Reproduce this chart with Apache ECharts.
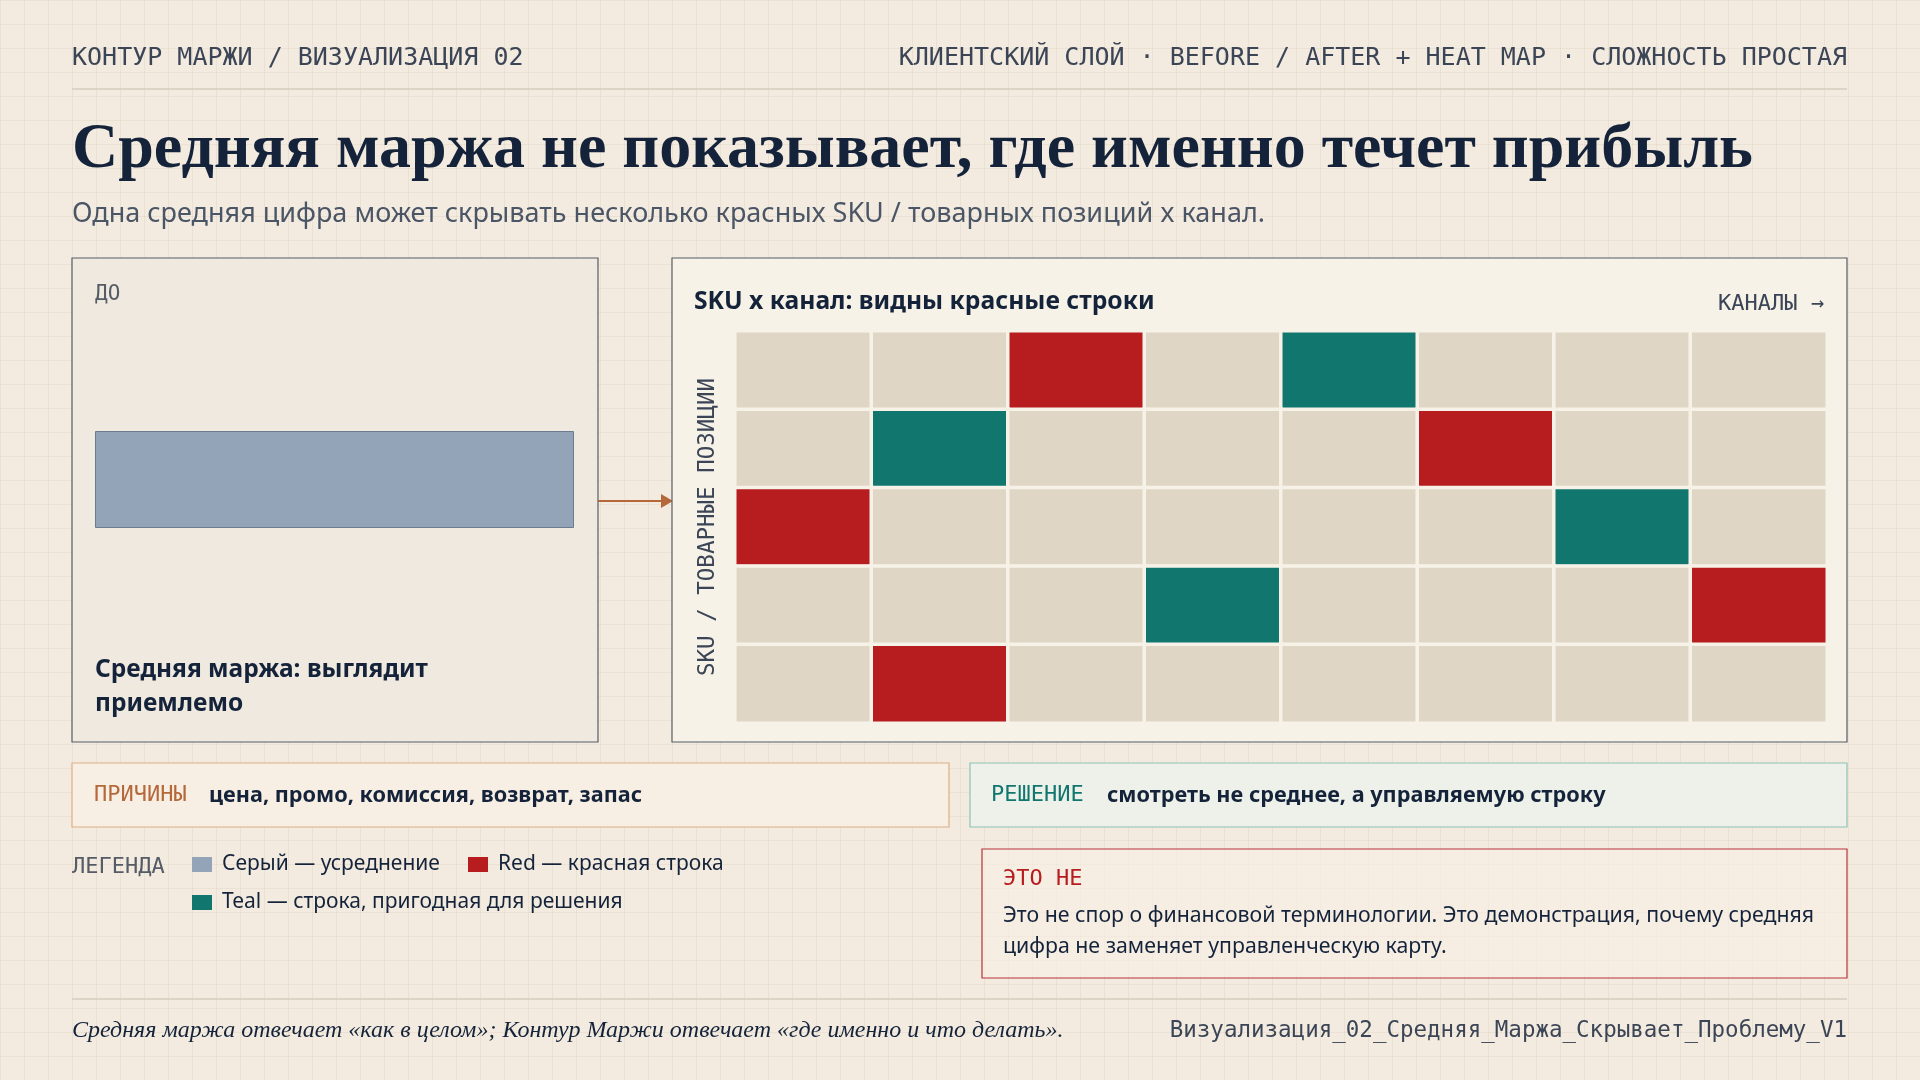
<!DOCTYPE html>
<html><head><meta charset="utf-8">
<script src="https://cdn.jsdelivr.net/npm/echarts@6/dist/echarts.min.js"></script>
<style>
html,body{margin:0;padding:0;width:1920px;height:1080px;overflow:hidden;
background-color:#f3ebdf;
background-image:linear-gradient(rgba(160,140,110,0.10) 1px,transparent 1px),linear-gradient(90deg,rgba(160,140,110,0.10) 1px,transparent 1px);
background-size:24px 24px;}
#c{width:1920px;height:1080px;}
</style></head><body><div id="c"></div>
<script>
const channels = ['К1','К2','К3','К4','К5','К6','К7','К8'];
const skus = ['SKU 1','SKU 2','SKU 3','SKU 4','SKU 5'];
// 0 = нейтрально, 1 = красная, 2 = teal
const cellRows = [
  [0,0,1,0,2,0,0,0],
  [0,2,0,0,0,1,0,0],
  [1,0,0,0,0,0,2,0],
  [0,0,0,2,0,0,0,1],
  [0,1,0,0,0,0,0,0]
];
const averageMargin = [1];

const heatData = [];
cellRows.forEach((row, r) => row.forEach((v, c) => heatData.push([c, r, v])));

const MONO = '"DejaVu Sans Mono", monospace';
const SANS = '"Noto Sans", sans-serif';
const SERIF = '"Liberation Serif", serif';
const NAVY = '#14233a';

function t(x, y, text, font, fill, extra) {
  return {type:'text', x, y, style:Object.assign({text, font, fill, textVerticalAlign:'middle'}, extra||{})};
}
function rect(x,y,w,h,fill,stroke){return {type:'rect',shape:{x,y,width:w,height:h},style:{fill,stroke,lineWidth:1.2}};}

const chart = echarts.init(document.getElementById('c'));
chart.setOption({
  animation:false,
  grid:[
    {left:735, top:331, width:1092, height:392},
    {left:95, top:431, width:479, height:97}
  ],
  xAxis:[
    {type:'category', data:channels, gridIndex:0, show:false},
    {type:'value', gridIndex:1, min:0, max:1, show:false}
  ],
  yAxis:[
    {type:'category', data:skus, gridIndex:0, inverse:true, show:false},
    {type:'category', data:['avg'], gridIndex:1, show:false}
  ],
  visualMap:{show:false, type:'piecewise', seriesIndex:0, dimension:2,
    pieces:[{value:0,color:'#e0d6c6'},{value:1,color:'#b71c1f'},{value:2,color:'#10766e'}]},
  series:[
    {type:'heatmap', xAxisIndex:0, yAxisIndex:0, data:heatData, z:5,
     itemStyle:{borderColor:'#f7f2e8', borderWidth:3.5}},
    {type:'bar', xAxisIndex:1, yAxisIndex:1, data:averageMargin, barWidth:'100%', z:5,
     itemStyle:{color:'#93a3b8', borderColor:'#6b7b90', borderWidth:1}}
  ],
  graphic:[
    t(72,58,'КОНТУР МАРЖИ / ВИЗУАЛИЗАЦИЯ 02','500 25px '+MONO,'#3b4556'),
    t(1847,58,'КЛИЕНТСКИЙ СЛОЙ · BEFORE / AFTER + HEAT MAP · СЛОЖНОСТЬ ПРОСТАЯ','500 25px '+MONO,'#3b4556',{textAlign:'right'}),
    {type:'line',shape:{x1:72,y1:89,x2:1847,y2:89},style:{stroke:'#d6ccbc',lineWidth:1.5}},
    t(72,150,'Средняя маржа не показывает, где именно течет прибыль','bold 64px '+SERIF,NAVY),
    t(72,214,'Одна средняя цифра может скрывать несколько красных SKU / товарных позиций x канал.','27px '+SANS,'#4a5566'),
    rect(72,258,526,484,'#efe9df','#555c66'),
    t(95,295,'ДО','21px '+MONO,'#555c66'),
    t(95,670,'Средняя маржа: выглядит','bold 24.5px '+SANS,NAVY),
    t(95,704,'приемлемо','bold 24.5px '+SANS,NAVY),
    {type:'line',shape:{x1:598,y1:501,x2:664,y2:501},style:{stroke:'#b5683a',lineWidth:2}},
    {type:'polygon',shape:{points:[[661,494],[673,501],[661,508]]},style:{fill:'#b5683a'}},
    rect(672,258,1175,484,'#f7f2e8','#555c66'),
    t(694,302,'SKU x канал: видны красные строки','bold 24.7px '+SANS,NAVY),
    t(1824,304,'КАНАЛЫ →','22px '+MONO,'#3b4556',{textAlign:'right'}),
    {type:'text',x:708,y:527,rotation:Math.PI/2,style:{text:'SKU / ТОВАРНЫЕ ПОЗИЦИИ',font:'22.5px '+MONO,fill:'#3b4556',textAlign:'center',textVerticalAlign:'middle'}},
    rect(72,763,877,64,'#f8efe4','#dcae86'),
    t(94,795,'ПРИЧИНЫ','22px '+MONO,'#b5683a'),
    t(209,796,'цена, промо, комиссия, возврат, запас','bold 21.7px '+SANS,NAVY),
    rect(970,763,877,64,'#eef1ea','#8fc2b7'),
    t(991,795,'РЕШЕНИЕ','22px '+MONO,'#10766e'),
    t(1107,796,'смотреть не среднее, а управляемую строку','bold 21.7px '+SANS,NAVY),
    t(72,867,'ЛЕГЕНДА','22px '+MONO,'#555c66'),
    rect(192,857,20,15,'#93a3b8',null),
    t(222,864,'Серый — усреднение','21px '+SANS,NAVY),
    rect(468,857,20,15,'#b71c1f',null),
    t(498,864,'Red — красная строка','21px '+SANS,NAVY),
    rect(192,895,20,15,'#10766e',null),
    t(222,902,'Teal — строка, пригодная для решения','21px '+SANS,NAVY),
    rect(982,849,865,129,'rgba(248,238,230,0.6)','#b8323a'),
    t(1003,879,'ЭТО НЕ','22px '+MONO,'#b71c1f'),
    t(1003,916,'Это не спор о финансовой терминологии. Это демонстрация, почему средняя','21.3px '+SANS,NAVY),
    t(1003,947,'цифра не заменяет управленческую карту.','21.3px '+SANS,NAVY),
    {type:'line',shape:{x1:72,y1:999,x2:1847,y2:999},style:{stroke:'#d6ccbc',lineWidth:1.5}},
    t(72,1031,'Средняя маржа отвечает «как в целом»; Контур Маржи отвечает «где именно и что делать».','italic 24px '+SERIF,NAVY),
    t(1847,1031,'Визуализация_02_Средняя_Маржа_Скрывает_Проблему_V1','22.5px '+MONO,'#3b4556',{textAlign:'right'})
  ]
});
</script></body></html>
